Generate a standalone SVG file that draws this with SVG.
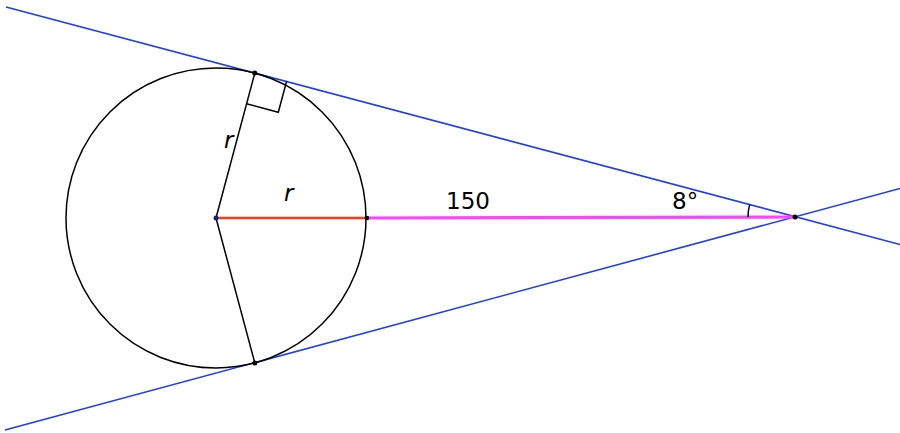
<svg xmlns="http://www.w3.org/2000/svg" width="900" height="433" viewBox="0 0 900 433">
<style>
.tan{stroke:#1f3fe8;stroke-width:1.6;fill:none}
.blk{stroke:#000;stroke-width:1.5;fill:none}
.dot{fill:#000}
text{font-family:"DejaVu Sans","Liberation Sans",sans-serif;font-size:23px;fill:#000}
.it{font-style:italic}
</style>
<rect width="900" height="433" fill="#fff"/>
<g id="connectors">
<line class="tan" x1="6" y1="7" x2="900" y2="244.5"/>
<line class="tan" x1="5" y1="430" x2="900" y2="188.5"/>
<line class="blk" x1="216" y1="218" x2="254.8" y2="73.1"/>
<line class="blk" x1="216" y1="218" x2="254.8" y2="362.9"/>
<polyline class="blk" points="286.6,81.4 278.3,112.3 246.5,103.8"/>
<line x1="216" y1="218" x2="367" y2="218" stroke="#ff3a14" stroke-width="2.5"/>
<line x1="367" y1="218" x2="795" y2="217" stroke="#ff44ff" stroke-width="3.2"/>
<path class="blk" d="M749.6,204.9 A47,47 0 0 0 748,217"/>
</g>
<g id="circle"><circle class="blk" cx="216" cy="218" r="150"/></g>
<g id="center"><circle cx="216" cy="218" r="2.5" fill="#10206a"/></g>
<g id="tangent-top"><circle class="dot" cx="254.8" cy="73.1" r="2.5"/></g>
<g id="tangent-bottom"><circle class="dot" cx="254.8" cy="362.9" r="2.5"/></g>
<g id="edge-point"><circle class="dot" cx="367" cy="218" r="2.3"/></g>
<g id="external-point"><circle class="dot" cx="795" cy="217" r="2.5"/></g>
<g id="labels">
<text class="it" x="224" y="148">r</text>
<text class="it" x="284" y="201">r</text>
<text x="446" y="209">150</text>
<text x="672" y="209">8°</text>
</g>
</svg>
